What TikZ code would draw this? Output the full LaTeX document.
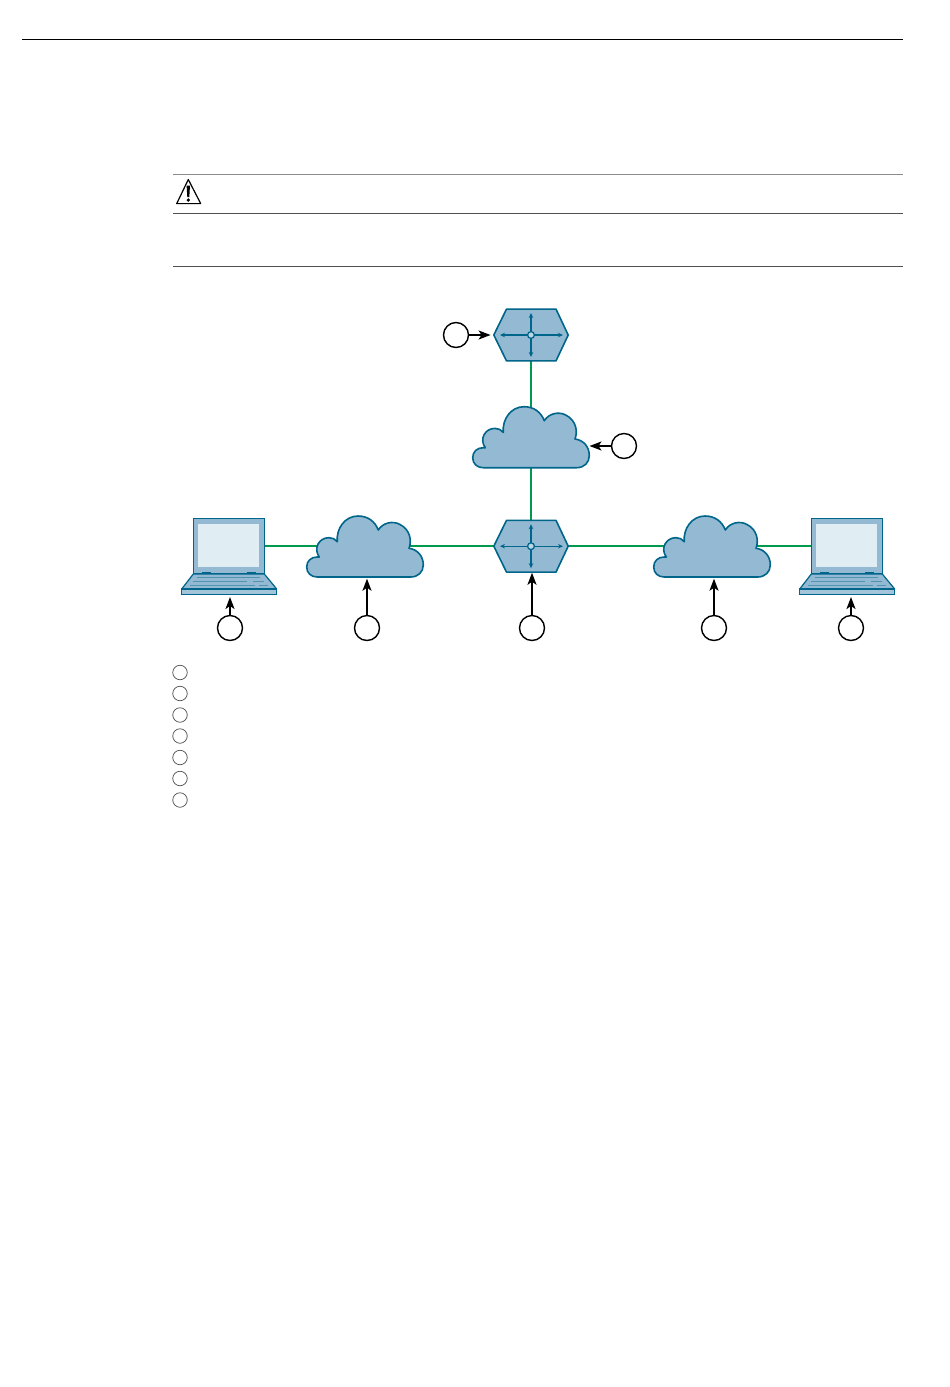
\documentclass[tikz,border=0pt]{standalone}
\usetikzlibrary{arrows.meta}
\definecolor{blueFill}{HTML}{93BAD2}
\definecolor{blueLine}{HTML}{00658B}
\definecolor{screenFill}{HTML}{E0EEF3}
\definecolor{linkGreen}{HTML}{009A4E}
\definecolor{ruleGray}{HTML}{8C8C8C}
\definecolor{ruleDark}{HTML}{505050}
\tikzset{
  x=1pt,y=-1pt,
  shapeline/.style={draw=blueLine,fill=blueFill,line width=1.6pt,line join=round},
  link/.style={draw=linkGreen,line width=2.3pt},
  callout/.style={circle,draw=black,fill=white,line width=1.4pt,minimum size=25pt,inner sep=0pt},
  legendmark/.style={circle,draw=black!70,fill=white,line width=0.7pt,minimum size=14.5pt,inner sep=0pt},
  pointer/.style={draw=black,line width=1.8pt,-{Stealth[length=12pt,width=9pt,inset=3pt]}},
  cloudbox/.style={minimum width=116.6pt,minimum height=61pt,inner sep=0pt},
  hexbox/.style={minimum width=74.4pt,minimum height=51.7pt,inner sep=0pt},
  lapbox/.style={minimum width=95pt,minimum height=76pt,inner sep=0pt},
  thinrule/.style={line width=0.9pt},
  hexarrow/.style={blueLine,line width=1.4pt,{Stealth[length=5pt,width=4.5pt]}-{Stealth[length=5pt,width=4.5pt]}},
  cloudshape/.pic={
    \path[shapeline] (45.7,30.5) -- (-47.7,30.5)
      .. controls (-54,30.5) and (-58.3,26.5) .. (-58.3,20.5)
      .. controls (-58.3,14.5) and (-54,10.5) .. (-47.7,10.5)
      -- (-45.7,10.5)
      .. controls (-52,2) and (-46,-9) .. (-36,-8.8)
      .. controls (-32.5,-8.8) and (-30,-7.5) .. (-27.7,-4.8)
      .. controls (-29,-18) and (-20,-30.5) .. (-7,-30.5)
      .. controls (3,-30.5) and (10,-25) .. (13.3,-16.5)
      .. controls (18,-24) and (28,-26) .. (35,-22)
      .. controls (45,-17) and (47,-6) .. (44,1.8)
      .. controls (53,3) and (58.3,10) .. (58.3,18.5)
      .. controls (58.3,25.5) and (53,30.5) .. (45.7,30.5) -- cycle;
  },
  hexshape/.pic={
    \path[shapeline] (-37.2,0) -- (-24.5,-25.9) -- (25,-25.9) -- (37.2,0) -- (25,25.9) -- (-24.5,25.9) -- cycle;
    \draw[hexarrow] (-31,0) -- (32,0);
    \draw[hexarrow] (0,-22) -- (0,22);
    \draw[blueLine,fill=blueFill!60!white,line width=1.3pt] (0,0) circle (3.4);
  },
  lapshape/.pic={
    \path[draw=blueLine,fill=blueFill,line width=1.2pt] (-35.9,-38) rectangle (35.1,17.5);
    \path[fill=screenFill] (-30.9,-32) rectangle (29.8,10.7);
    \path[draw=blueLine,fill=blueFill,line width=1.2pt,line join=round] (-35.9,17.7) -- (35.1,17.7) -- (47.5,32.7) -- (-47.5,32.7) -- cycle;
    \path[draw=blueLine,fill=blueFill!85!white,line width=1.2pt] (-47.5,32.7) rectangle (47.5,38);
    \path[fill=blueLine] (-27.5,15.2) rectangle (-18.2,17.4);
    \path[fill=blueLine] (17.8,15.2) rectangle (27.1,17.4);
    \draw[blueLine!45!blueFill,line width=0.7pt] (-32,21.5) -- (31,21.5);
    \draw[blueLine!45!blueFill,line width=0.7pt] (-36,25.5) -- (18,25.5) (24,25.5) -- (35,25.5);
    \draw[blueLine!45!blueFill,line width=0.7pt] (-39,29.5) -- (26,29.5) (30,29.5) -- (39,29.5);
  }
}
\begin{document}
\begin{tikzpicture}
\useasboundingbox (0,0) rectangle (950,1387);
\fill[white] (0,0) rectangle (950,1387);
% rules
\coordinate (topL) at (22,39.7); \coordinate (topR) at (903,39.7);
\draw[black,thinrule] (topL) -- (topR);
\coordinate (r1L) at (173,174.5); \coordinate (r1R) at (903,174.5);
\draw[ruleGray,thinrule] (r1L) -- (r1R);
\coordinate (r2L) at (173,213); \coordinate (r2R) at (903,213);
\draw[ruleDark,thinrule] (r2L) -- (r2R);
\coordinate (r3L) at (173,266.5); \coordinate (r3R) at (903,266.5);
\draw[ruleDark,thinrule] (r3L) -- (r3R);
% warning sign
\draw[black,line width=1.2pt,line join=round] (188.3,179.5) -- (176.7,203.6) -- (200.7,203.6) -- cycle;
\fill[black] (186.6,185.5) -- (190,185.5) -- (189.3,197) -- (187.3,197) -- cycle;
\fill[black] (188.3,200) circle (1.8);
% anchors
\node[hexbox] (hexTop) at (531,335) {};
\node[hexbox] (hexMid) at (531,546.2) {};
\node[cloudbox] (cloudTop) at (531,437.2) {};
\node[cloudbox] (cloudLeft) at (365,546.5) {};
\node[cloudbox] (cloudRight) at (712,546.5) {};
\node[lapbox] (lapLeft) at (229.2,556.3) {};
\node[lapbox] (lapRight) at (847.2,556.3) {};
% links
\draw[link] (hexTop) -- (cloudTop.center |- hexTop.south) -- (hexMid);
\draw[link] (lapLeft.center |- hexMid) -- (hexMid.center);
\draw[link] (hexMid.center) -- (lapRight.center |- hexMid);
% shapes
\pic at (hexTop) {hexshape};
\pic at (hexMid) {hexshape};
\pic at (cloudTop) {cloudshape};
\pic at (cloudLeft) {cloudshape};
\pic at (cloudRight) {cloudshape};
\pic at (lapLeft) {lapshape};
\pic at (lapRight) {lapshape};
% callouts
\node[callout] (cA) at (456,335) {};
\node[callout] (cB) at (624,446) {};
\node[callout] (cC) at (230,628) {};
\node[callout] (cD) at (367,628) {};
\node[callout] (cE) at (532,628) {};
\node[callout] (cF) at (714,628) {};
\node[callout] (cG) at (851,628) {};
\draw[pointer,shorten >=3pt] (cA) -- (hexTop.west);
\draw[pointer,shorten >=0pt] (cB) -- (cloudTop.east |- cB);
\draw[pointer,shorten >=2.5pt] (cC) -- (cC |- lapLeft.south);
\draw[pointer,shorten >=1.5pt] (cD) -- (cD |- cloudLeft.south);
\draw[pointer,shorten >=0.5pt] (cE) -- (cE |- hexMid.south);
\draw[pointer,shorten >=1.5pt] (cF) -- (cF |- cloudRight.south);
\draw[pointer,shorten >=2.5pt] (cG) -- (cG |- lapRight.south);
% legend
\node[legendmark] (l1) at (180,672.5) {};
\node[legendmark] (l2) at (180,693.5) {};
\node[legendmark] (l3) at (180,715) {};
\node[legendmark] (l4) at (180,736) {};
\node[legendmark] (l5) at (180,757.5) {};
\node[legendmark] (l6) at (180,778.5) {};
\node[legendmark] (l7) at (180,800) {};
\end{tikzpicture}
\end{document}
